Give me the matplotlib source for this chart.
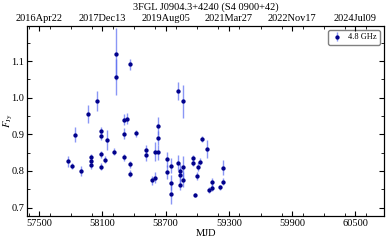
import matplotlib
matplotlib.use("Agg")
import matplotlib.pyplot as plt
from matplotlib.ticker import MultipleLocator

# 4.8 GHz light curve
mjd = [57775, 57813, 57841, 57895, 57962, 57987, 57987, 57987, 58047,
       58083, 58083, 58083, 58083, 58120, 58145, 58207, 58230, 58230,
       58300, 58300, 58300, 58331, 58357, 58357, 58357, 58419, 58511,
       58511, 58568, 58600, 58600, 58628, 58628, 58628, 58715, 58715,
       58748, 58748, 58748, 58815, 58815, 58840, 58840, 58840, 58864,
       58864, 58864, 58957, 58957, 58980, 58995, 59011, 59026, 59045,
       59091, 59111, 59140, 59140, 59213, 59241, 59241]
flux = [0.827, 0.814, 0.899, 0.799, 0.955, 0.837, 0.826, 0.815, 0.990,
        0.909, 0.896, 0.845, 0.812, 0.831, 0.884, 0.853, 1.119, 1.057,
        0.940, 0.902, 0.837, 0.943, 1.091, 0.818, 0.793, 0.903, 0.857,
        0.843, 0.775, 0.853, 0.782, 0.922, 0.890, 0.851, 0.832, 0.797,
        0.814, 0.768, 0.736, 0.823, 1.019, 0.799, 0.788, 0.762, 0.990,
        0.810, 0.776, 0.834, 0.823, 0.734, 0.786, 0.812, 0.825, 0.888,
        0.860, 0.749, 0.769, 0.754, 0.755, 0.809, 0.771]
err = [0.015, 0.009, 0.020, 0.014, 0.024, 0.010, 0.010, 0.010, 0.027,
       0.012, 0.012, 0.010, 0.010, 0.009, 0.027, 0.010, 0.070, 0.050,
       0.015, 0.015, 0.010, 0.015, 0.015, 0.010, 0.010, 0.010, 0.015,
       0.015, 0.012, 0.025, 0.015, 0.025, 0.020, 0.020, 0.020, 0.020,
       0.020, 0.020, 0.025, 0.020, 0.025, 0.020, 0.020, 0.015, 0.045,
       0.030, 0.020, 0.010, 0.010, 0.005, 0.010, 0.012, 0.010, 0.008,
       0.025, 0.008, 0.012, 0.010, 0.008, 0.020, 0.010]

tick_mjd = [57500, 58100, 58700, 59300, 59900, 60500]
tick_dates = ["2016Apr22", "2017Dec13", "2019Aug05", "2021Mar27",
              "2022Nov17", "2024Jul09"]

plt.rcParams["font.family"] = ["Liberation Serif", "DejaVu Serif"]
plt.rcParams["mathtext.fontset"] = "stix"
plt.rcParams["font.size"] = 7.5

fig = plt.figure(figsize=(3.89, 2.40), dpi=100)
ax = fig.add_axes([0.070, 0.100, 0.918, 0.792])

ax.errorbar(mjd, flux, yerr=err, fmt="o", color="darkblue", ms=2.1,
            ecolor=(0.35, 0.42, 0.95, 0.7), elinewidth=1.0, capsize=0,
            label="4.8 GHz")

ax.set_xlim(57386, 60775)
ax.set_ylim(0.677, 1.196)
ax.set_xticks(tick_mjd)
ax.xaxis.set_minor_locator(MultipleLocator(200))
ax.yaxis.set_major_locator(MultipleLocator(0.1))
ax.yaxis.set_minor_locator(MultipleLocator(0.05))
ax.tick_params(which="both", direction="in", right=True, labelsize=7.5, pad=2)
ax.tick_params(which="major", length=3.5)
ax.tick_params(which="minor", length=2)
ax.set_xlabel("MJD", labelpad=1)
ax.set_ylabel(r"$F_{\rm Jy}$")
ax.yaxis.set_label_coords(-0.035, 0.5)

top = ax.twiny()
top.set_xlim(ax.get_xlim())
top.set_xticks(tick_mjd)
top.set_xticklabels(tick_dates)
top.xaxis.set_minor_locator(MultipleLocator(200))
top.tick_params(which="both", direction="in", labelsize=7.5, pad=2)
top.tick_params(which="major", length=3.5)
top.tick_params(which="minor", length=2)
top.set_title("3FGL J0904.3+4240 (S4 0900+42)", fontsize=7.5, pad=3)

ax.legend(loc="upper right", fontsize=6, handlelength=1.2,
          borderpad=0.4, framealpha=1, edgecolor="gray")

fig.savefig("out.png", dpi=100)
